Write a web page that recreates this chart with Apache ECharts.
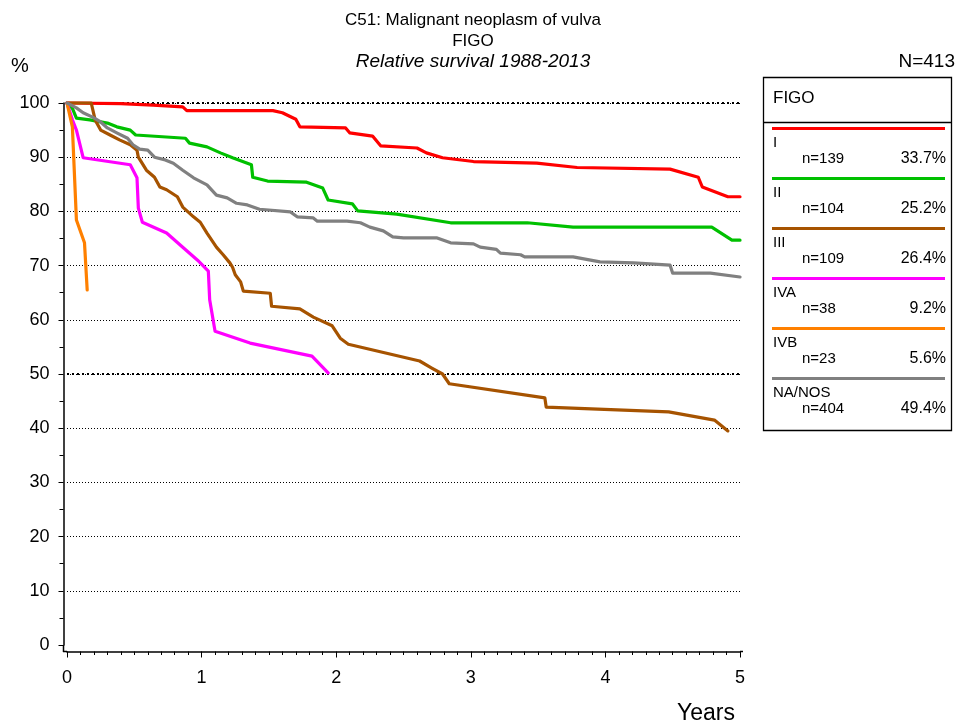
<!DOCTYPE html>
<html>
<head>
<meta charset="utf-8">
<script src="https://cdn.jsdelivr.net/npm/echarts@6/dist/echarts.min.js"></script>
<style>html,body{margin:0;padding:0;background:#fff}#c{width:956px;height:725px}</style>
</head>
<body>
<div id="c"></div>
<script>
// ---- data (years, relative survival %) ----
const stageNames = ['I', 'II', 'III', 'IVA', 'IVB', 'NA/NOS'];
const stageN = ['n=139', 'n=104', 'n=109', 'n=38', 'n=23', 'n=404'];
const stagePct = ['33.7%', '25.2%', '26.4%', '9.2%', '5.6%', '49.4%'];
const stageColors = ['#ff0000', '#00c000', '#a65300', '#ff00ff', '#ff8000', '#808080'];

const stageI = [[0,100],[0.40,99.9],[0.64,99.6],[0.86,99.3],[0.89,98.6],[1.53,98.6],[1.60,98.2],[1.70,97.0],[1.73,95.6],[2.07,95.4],[2.10,94.5],[2.27,93.9],[2.33,92.1],[2.60,91.7],[2.67,90.8],[2.79,89.9],[3.02,89.2],[3.49,88.9],[3.79,88.1],[4.48,87.8],[4.69,86.3],[4.72,84.5],[4.91,82.7],[5.0,82.7]];
const stageII = [[0,100],[0.04,99],[0.07,97.2],[0.17,96.9],[0.30,96.3],[0.37,95.6],[0.47,95.0],[0.51,94.1],[0.88,93.5],[0.91,92.6],[1.04,91.9],[1.14,90.8],[1.23,89.9],[1.37,88.6],[1.38,86.3],[1.49,85.6],[1.78,85.4],[1.90,84.3],[1.94,82.1],[2.12,81.4],[2.16,80.1],[2.45,79.5],[2.85,77.9],[3.42,77.9],[3.76,77.1],[4.79,77.1],[4.94,74.7],[5.0,74.7]];
const stageIII = [[0,100],[0.18,100],[0.21,96.8],[0.25,95.0],[0.32,94.1],[0.39,93.2],[0.47,92.3],[0.52,91.3],[0.53,90.0],[0.59,87.6],[0.65,86.3],[0.69,84.5],[0.74,84.0],[0.82,82.7],[0.86,80.8],[0.94,79.0],[0.99,78.0],[1.04,76.0],[1.11,73.4],[1.16,72.0],[1.21,70.5],[1.23,69.7],[1.25,68.3],[1.29,67.0],[1.31,65.3],[1.51,64.9],[1.52,62.5],[1.73,62.0],[1.83,60.5],[1.97,58.9],[2.03,56.6],[2.09,55.5],[2.62,52.4],[2.71,51.1],[2.79,50.0],[2.84,48.2],[3.55,45.6],[3.56,43.9],[4.47,43.0],[4.81,41.5],[4.91,39.5]];
const stageIVA = [[0,100],[0.04,96.9],[0.07,95.0],[0.12,89.9],[0.47,88.6],[0.52,86.2],[0.53,80.6],[0.56,78.0],[0.74,76.0],[0.86,73.4],[0.97,71.0],[1.05,69.0],[1.06,63.7],[1.10,57.9],[1.36,55.7],[1.82,53.3],[1.94,50.2]];
const stageIVB = [[0,100],[0.04,95.6],[0.07,78.4],[0.13,74.2],[0.15,65.5]];
const stageNOS = [[0,100],[0.07,99.1],[0.12,98.2],[0.19,97.4],[0.25,96.5],[0.30,95.4],[0.37,94.5],[0.45,93.5],[0.49,92.3],[0.54,91.5],[0.60,91.3],[0.65,90.0],[0.73,89.5],[0.79,88.9],[0.86,87.6],[0.94,86.2],[1.04,84.9],[1.11,83.0],[1.19,82.5],[1.26,81.5],[1.34,81.2],[1.43,80.4],[1.66,79.9],[1.71,79.0],[1.83,78.8],[1.86,78.2],[2.08,78.2],[2.18,77.9],[2.25,77.1],[2.35,76.4],[2.42,75.3],[2.50,75.1],[2.75,75.1],[2.85,74.2],[3.02,74.0],[3.07,73.4],[3.19,73.0],[3.22,72.3],[3.37,72.0],[3.40,71.6],[3.76,71.6],[3.96,70.7],[4.21,70.5],[4.48,70.1],[4.50,68.6],[4.78,68.6],[5.0,67.9]];
const stageData = [stageI, stageII, stageIII, stageIVA, stageIVB, stageNOS];

const titleLines = ['C51: Malignant neoplasm of vulva', 'FIGO', 'Relative survival 1988-2013'];
const totalN = 'N=413';
const yTitle = '%';
const xTitle = 'Years';
const legendTitle = 'FIGO';
const boldGridValues = [50, 100];

// ---- chart ----
const FONT = '"Liberation Sans", Arial, sans-serif';
const chart = echarts.init(document.getElementById('c'), null, {renderer: 'canvas'});

const series = stageData.map((d, i) => ({
  name: stageNames[i],
  type: 'line',
  data: d,
  showSymbol: false,
  symbol: 'none',
  smooth: false,
  clip: false,
  lineStyle: {color: stageColors[i], width: 3.2, join: 'round', cap: 'round'},
  z: 10 + i,
  animation: false
}));
series.push({
  type: 'line', data: [], silent: true, animation: false,
  markLine: {
    symbol: 'none', silent: true, animation: false,
    label: {show: false},
    lineStyle: {color: '#000', type: [2, 3], width: 2},
    data: boldGridValues.map(v => ({yAxis: v}))
  }
});

const graphics = [];
graphics.push({type: 'text', x: 473, y: 20, style: {text: titleLines[0], font: '17px ' + FONT, fill: '#000', align: 'center', verticalAlign: 'middle'}});
graphics.push({type: 'text', x: 473, y: 41, style: {text: titleLines[1], font: '17px ' + FONT, fill: '#000', align: 'center', verticalAlign: 'middle'}});
graphics.push({type: 'text', x: 473, y: 62, style: {text: titleLines[2], font: 'italic 19px ' + FONT, fill: '#000', align: 'center', verticalAlign: 'middle'}});
graphics.push({type: 'text', x: 11, y: 66, style: {text: yTitle, font: '20px ' + FONT, fill: '#000', verticalAlign: 'middle'}});
graphics.push({type: 'text', x: 955, y: 62, style: {text: totalN, font: '19px ' + FONT, fill: '#000', align: 'right', verticalAlign: 'middle'}});
graphics.push({type: 'text', x: 706, y: 714, style: {text: xTitle, font: '23px ' + FONT, fill: '#000', align: 'center', verticalAlign: 'middle'}});
// axis line extensions to the corner
graphics.push({type: 'line', shape: {x1: 63, y1: 651.5, x2: 67, y2: 651.5}, style: {stroke: '#000', lineWidth: 1.5}});
graphics.push({type: 'line', shape: {x1: 740, y1: 651.5, x2: 743, y2: 651.5}, style: {stroke: '#000', lineWidth: 1.5}});
graphics.push({type: 'line', shape: {x1: 63.5, y1: 645, x2: 63.5, y2: 652}, style: {stroke: '#000', lineWidth: 1.5}});

// legend box
graphics.push({type: 'rect', shape: {x: 763.5, y: 77.5, width: 188, height: 353}, style: {fill: 'none', stroke: '#000', lineWidth: 1.3}});
graphics.push({type: 'text', x: 773, y: 98, style: {text: legendTitle, font: '17px ' + FONT, fill: '#000', verticalAlign: 'middle'}});
graphics.push({type: 'line', shape: {x1: 763, y1: 122.5, x2: 951, y2: 122.5}, style: {stroke: '#000', lineWidth: 1.3}});
stageNames.forEach((nm, i) => {
  const y0 = 128.5 + 50 * i;
  graphics.push({type: 'line', shape: {x1: 772, y1: y0, x2: 945, y2: y0}, style: {stroke: stageColors[i], lineWidth: 3}});
  graphics.push({type: 'text', x: 773, y: y0 + 14, style: {text: nm, font: '15px ' + FONT, fill: '#000', verticalAlign: 'middle'}});
  graphics.push({type: 'text', x: 802, y: y0 + 30, style: {text: stageN[i], font: '15px ' + FONT, fill: '#000', verticalAlign: 'middle'}});
  graphics.push({type: 'text', x: 946, y: y0 + 30, style: {text: stagePct[i], font: '16px ' + FONT, fill: '#000', align: 'right', verticalAlign: 'middle'}});
});

chart.setOption({
  animation: false,
  backgroundColor: '#fff',
  grid: {left: 67, right: 216, top: 103, bottom: 80, containLabel: false},
  xAxis: {
    type: 'value', min: 0, max: 5, interval: 1, offset: 6.5,
    axisLine: {show: true, onZero: false, lineStyle: {color: '#000', width: 1.5}},
    axisTick: {show: true, length: 6, lineStyle: {color: '#000', width: 1}},
    minorTick: {show: true, splitNumber: 10, length: 3.5, lineStyle: {color: '#000', width: 1}},
    axisLabel: {color: '#000', fontSize: 18, fontFamily: FONT, margin: 18},
    splitLine: {show: false}
  },
  yAxis: {
    type: 'value', min: 0, max: 100, interval: 10, offset: 3.5,
    axisLine: {show: true, onZero: false, lineStyle: {color: '#000', width: 1.5}},
    axisTick: {show: true, length: 5, lineStyle: {color: '#000', width: 1}},
    minorTick: {show: true, splitNumber: 2, length: 4, lineStyle: {color: '#000', width: 1}},
    axisLabel: {color: '#000', fontSize: 18, fontFamily: FONT, margin: 14,
      formatter: v => String(v)},
    splitLine: {show: true, showMinLine: false, lineStyle: {color: '#000', type: [1, 2], width: 1}}
  },
  series: series,
  graphic: graphics
});
</script>
</body>
</html>
